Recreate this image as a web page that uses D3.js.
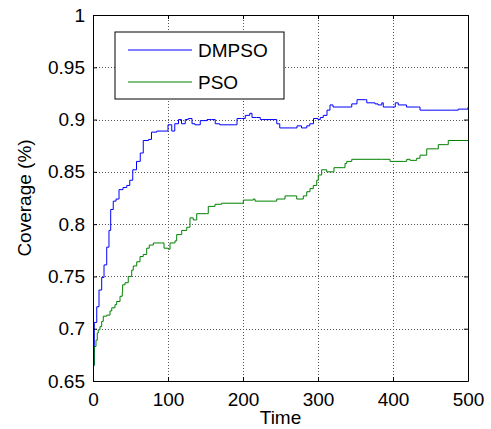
<!DOCTYPE html>
<html>
<head>
<meta charset="utf-8">
<script src="https://cdn.jsdelivr.net/npm/d3@7"></script>
<style>
  body { margin: 0; background: #fff; }
  svg { display: block; font-family: 'Liberation Sans', Arial, sans-serif; }
  .grid line { stroke: #555; stroke-dasharray: 1,2; shape-rendering: crispEdges; }
  .grid .domain { display: none; }
  .axis .domain { stroke: #000; }
  .axis line { stroke: #000; }
</style>
</head>
<body>
<div class="chart"></div>
<script>
// series: DMPSO (blue)
const dmpsoTime = [0, 1.7, 5, 8, 11.6, 14.7, 18.3, 21.3, 23.6, 27, 30.7, 34.7, 40, 45, 49, 53, 58, 63, 67, 74,
  78, 85, 96, 100, 105, 109, 114, 116, 118, 123, 127, 132, 136, 143, 152, 158, 163, 169, 189, 192,
  198, 203, 209, 212, 218, 223, 236, 245, 249, 269, 272, 278, 285, 289, 294, 300, 303, 307, 312, 316,
  320, 340, 345, 352, 363, 365, 376, 380, 385, 387, 400, 403, 407, 416, 418, 434, 436, 478, 487, 500];
const dmpsoCov = [0.665, 0.706, 0.721, 0.737, 0.749, 0.761, 0.778, 0.794, 0.814, 0.822, 0.824, 0.833, 0.835, 0.837, 0.842, 0.852, 0.860, 0.868, 0.880, 0.881,
  0.888, 0.889, 0.889, 0.895, 0.889, 0.896, 0.900, 0.900, 0.896, 0.900, 0.901, 0.896, 0.895, 0.899, 0.900, 0.900, 0.896, 0.895, 0.895, 0.901,
  0.901, 0.904, 0.906, 0.902, 0.902, 0.900, 0.900, 0.896, 0.892, 0.892, 0.894, 0.892, 0.894, 0.896, 0.901, 0.900, 0.902, 0.904, 0.909, 0.914,
  0.912, 0.912, 0.915, 0.919, 0.919, 0.916, 0.915, 0.914, 0.916, 0.912, 0.912, 0.916, 0.914, 0.914, 0.912, 0.912, 0.909, 0.909, 0.910, 0.912];

// series: PSO (green)
const psoTime = [0, 1.7, 4, 5.7, 7, 9.3, 11.6, 13.7, 18.3, 22.7, 25, 29.3, 31.6, 36, 39, 39.5, 42.7, 47, 51.6, 53.7,
  58.3, 62.7, 67, 71.6, 75, 80.4, 91.6, 94.7, 100.4, 102.7, 109.3, 111.6, 118.3, 125, 129.3, 133.7, 138.3, 151.6, 153.7, 162.7,
  171.6, 198.3, 200.4, 213.7, 216, 240.4, 245, 253.7, 256, 271.6, 280.4, 285, 289.3, 293.7, 298.3, 300.4, 304.9, 309.3, 311.6, 320.4,
  321.3, 333.7, 336, 338.3, 345, 385, 396, 413.7, 418.3, 422.7, 431.6, 436, 442.7, 445, 458.3, 460.4, 471.6, 473.7, 500];
const psoCov = [0.665, 0.683, 0.689, 0.696, 0.699, 0.702, 0.707, 0.712, 0.713, 0.717, 0.720, 0.723, 0.726, 0.731, 0.735, 0.742, 0.744, 0.750, 0.756, 0.760,
  0.764, 0.769, 0.771, 0.777, 0.780, 0.782, 0.782, 0.777, 0.776, 0.782, 0.784, 0.790, 0.794, 0.797, 0.806, 0.804, 0.810, 0.810, 0.817, 0.819,
  0.820, 0.820, 0.823, 0.824, 0.822, 0.822, 0.824, 0.824, 0.827, 0.824, 0.827, 0.831, 0.834, 0.837, 0.842, 0.847, 0.852, 0.852, 0.850, 0.850,
  0.854, 0.854, 0.858, 0.860, 0.862, 0.862, 0.860, 0.860, 0.862, 0.861, 0.863, 0.866, 0.866, 0.872, 0.872, 0.876, 0.876, 0.880, 0.880];

const xTicks = [0, 100, 200, 300, 400, 500];
const yTicks = [0.65, 0.7, 0.75, 0.8, 0.85, 0.9, 0.95, 1];
const seriesNames = ['DMPSO', 'PSO'];
const seriesColors = ['#0000ff', '#008000'];

const w = 491;
const h = 429;
const margin = { left: 93, right: 23, top: 15, bottom: 48 };
const pw = w - margin.left - margin.right;
const ph = h - margin.top - margin.bottom;

const svg = d3.select('.chart')
  .append('svg')
  .attr('width', w)
  .attr('height', h);

const g = svg.append('g').attr('transform', `translate(${margin.left},${margin.top})`);

const xScale = d3.scaleLinear().domain([0, 500]).range([0, pw]);
const yScale = d3.scaleLinear().domain([0.65, 1]).range([ph, 0]);

// grid
g.append('g')
  .attr('class', 'grid')
  .attr('transform', `translate(0,${ph})`)
  .call(d3.axisBottom(xScale).tickValues(xTicks.slice(1, -1)).tickSize(-ph).tickFormat(''));
g.append('g')
  .attr('class', 'grid')
  .call(d3.axisLeft(yScale).tickValues(yTicks.slice(1, -1)).tickSize(-pw).tickFormat(''));

// lines (stair-like like the original)
const line = d3.line()
  .x((d) => xScale(d[0]))
  .y((d) => yScale(d[1]))
  .curve(d3.curveStepAfter);
const dmpso = dmpsoTime.map((t, i) => [t, dmpsoCov[i]]);
const pso = psoTime.map((t, i) => [t, psoCov[i]]);

[dmpso, pso].forEach((s, i) => {
  g.append('path')
    .datum(s)
    .attr('d', line)
    .attr('fill', 'none')
    .attr('stroke', seriesColors[i])
    .attr('stroke-width', 1);
});

// axes (ticks inward, box)
const fmt = (d) => (d === 1 ? '1' : d3.format('')(d));
g.append('g')
  .attr('class', 'axis')
  .attr('transform', `translate(0,${ph})`)
  .call(d3.axisBottom(xScale).tickValues(xTicks).tickSizeInner(-4).tickSizeOuter(0).tickPadding(12))
  .call((a) => a.selectAll('text').attr('font-size', 19).attr('fill', '#000'));
g.append('g')
  .attr('class', 'axis')
  .call(d3.axisLeft(yScale).tickValues(yTicks).tickSizeInner(-4).tickSizeOuter(0).tickPadding(8).tickFormat(fmt))
  .call((a) => a.selectAll('text').attr('font-size', 19).attr('fill', '#000'));
g.append('g')
  .attr('class', 'axis')
  .call(d3.axisTop(xScale).tickValues(xTicks).tickSizeInner(-4).tickSizeOuter(0).tickFormat(''));
g.append('g')
  .attr('class', 'axis')
  .attr('transform', `translate(${pw},0)`)
  .call(d3.axisRight(yScale).tickValues(yTicks).tickSizeInner(-4).tickSizeOuter(0).tickFormat(''));

// axis titles
svg.append('text')
  .attr('x', margin.left + pw / 2)
  .attr('y', 424)
  .attr('text-anchor', 'middle')
  .attr('font-size', 19)
  .text('Time');
svg.append('text')
  .attr('transform', `translate(31,${margin.top + ph / 2}) rotate(-90)`)
  .attr('text-anchor', 'middle')
  .attr('font-size', 19)
  .text('Coverage (%)');

// legend
const legend = g.append('g').attr('transform', 'translate(22,17)');
legend.append('rect')
  .attr('width', 169)
  .attr('height', 67)
  .attr('fill', '#fff')
  .attr('stroke', '#000');
seriesNames.forEach((name, i) => {
  const yy = 18 + i * 32;
  legend.append('line')
    .attr('x1', 13).attr('x2', 77)
    .attr('y1', yy).attr('y2', yy)
    .attr('stroke', seriesColors[i]);
  legend.append('text')
    .attr('x', 83)
    .attr('y', yy + 7)
    .attr('font-size', 19)
    .text(name);
});
</script>
</body>
</html>
